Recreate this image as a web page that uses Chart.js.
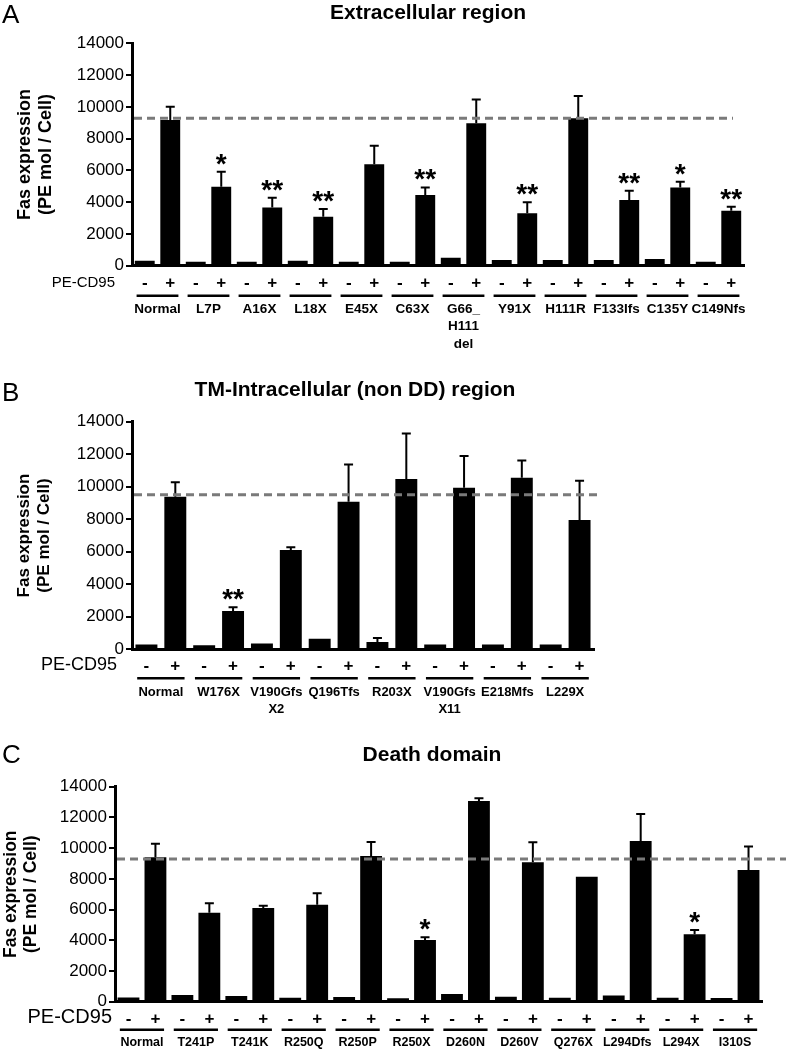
<!DOCTYPE html>
<html>
<head>
<meta charset="utf-8">
<script src="https://cdn.jsdelivr.net/npm/chart.js@4.4.0/dist/chart.umd.min.js"></script>
<style>
body { margin: 0; background: #fff; width: 786px; height: 1050px; position: relative; overflow: hidden; }
canvas { position: absolute; left: 0; }
</style>
</head>
<body>
<canvas id="panelA" width="786" height="365" style="top:0px"></canvas>
<canvas id="panelB" width="786" height="375" style="top:365px"></canvas>
<canvas id="panelC" width="786" height="310" style="top:740px"></canvas>
<script>
// Panel A - extracellular region
const groupsA = ['Normal', 'L7P', 'A16X', 'L18X', 'E45X', 'C63X', ['G66_', 'H111', 'del'], 'Y91X', 'H111R', 'F133Ifs', 'C135Y', 'C149Nfs'];
const minusA = [310, 250, 250, 310, 250, 250, 500, 360, 360, 360, 420, 250];
const plusA = [9170, 4970, 3670, 3085, 6380, 4450, 8960, 3300, 9280, 4130, 4930, 3460];
const errA = [10010, 5920, 4280, 3570, 7550, 4930, 10470, 3990, 10680, 4720, 5290, 3710];
const sigA = ['', '*', '**', '**', '', '**', '', '**', '', '**', '*', '**'];
const refA = 9280;

// Panel B - TM-intracellular (non DD) region
const groupsB = ['Normal', 'W176X', ['V190Gfs', 'X2'], 'Q196Tfs', 'R203X', ['V190Gfs', 'X11'], 'E218Mfs', 'L229X'];
const minusB = [300, 250, 350, 650, 450, 300, 300, 300];
const minusErrB = [null, null, null, null, 700, null, null, null];
const plusB = [9385, 2360, 6110, 9080, 10470, 9940, 10550, 7950];
const errB = [10270, 2580, 6270, 11370, 13280, 11890, 11620, 10370];
const sigB = ['', '**', '', '', '', '', '', ''];
const refB = 9500;

// Panel C - death domain
const groupsC = ['Normal', 'T241P', 'T241K', 'R250Q', 'R250P', 'R250X', 'D260N', 'D260V', 'Q276X', 'L294Dfs', 'L294X', 'I310S'];
const minusC = [280, 430, 370, 260, 300, 220, 500, 325, 260, 410, 260, 240];
const plusC = [9400, 5800, 6100, 6320, 9490, 4020, 13070, 9080, 8140, 10470, 4390, 8580];
const errC = [10290, 6405, 6255, 7060, 10400, 4190, 13250, 10380, null, 12230, 4670, 10100];
const sigC = ['', '', '', '', '', '*', '', '', '', '', '*', ''];
const refC = 9300;

const yTicks = [0, 2000, 4000, 6000, 8000, 10000, 12000, 14000];

Chart.defaults.font.family = '"Liberation Sans", Arial, Helvetica, sans-serif';
Chart.defaults.color = '#000';
Chart.defaults.animation = false;

function makePanel(id, d, look) {
  const values = [];
  const signs = [];
  d.groups.forEach((g, i) => {
    values.push(d.minus[i], d.plus[i]);
    signs.push('-', '+');
  });
  const canvas = document.getElementById(id);
  const H = canvas.height;

  const extras = {
    id: 'extras',
    afterDatasetsDraw(chart) {
      const ctx = chart.ctx;
      const y = chart.scales.y;
      const x2 = chart.scales.x2;
      const area = chart.chartArea;
      const bars = chart.getDatasetMeta(0).data;
      ctx.save();

      // error bars (upper only)
      ctx.strokeStyle = '#000';
      ctx.lineWidth = 2;
      const whisker = (bar, v) => {
        if (v == null) return;
        const ty = y.getPixelForValue(v);
        ctx.beginPath();
        ctx.moveTo(bar.x, bar.y);
        ctx.lineTo(bar.x, ty);
        ctx.moveTo(bar.x - 4.5, ty);
        ctx.lineTo(bar.x + 4.5, ty);
        ctx.stroke();
      };
      d.groups.forEach((g, i) => {
        whisker(bars[2 * i + 1], d.err[i]);
        if (d.minusErr) whisker(bars[2 * i], d.minusErr[i]);
      });

      // dashed line at the normal level
      const ry = y.getPixelForValue(d.ref);
      ctx.strokeStyle = '#7a7a7a';
      ctx.lineWidth = 3;
      ctx.setLineDash([8, 5]);
      ctx.beginPath();
      ctx.moveTo(area.left + 2, ry);
      ctx.lineTo(look.dashEnd, ry);
      ctx.stroke();
      ctx.setLineDash([]);

      // significance stars
      ctx.fillStyle = '#000';
      ctx.font = 'bold 28px "Liberation Sans", Arial, sans-serif';
      ctx.textAlign = 'center';
      ctx.textBaseline = 'alphabetic';
      d.groups.forEach((g, i) => {
        if (!d.sig[i]) return;
        const bar = bars[2 * i + 1];
        const top = d.err[i] != null ? y.getPixelForValue(d.err[i]) : bar.y;
        ctx.fillText(d.sig[i], bar.x, top + 1);
      });

      // group underlines
      const gw = (area.right - area.left) / d.groups.length;
      ctx.lineWidth = 2.5;
      ctx.strokeStyle = '#000';
      ctx.beginPath();
      d.groups.forEach((g, i) => {
        const cx = x2.getPixelForValue(i);
        const uy = area.bottom + look.underline;
        ctx.moveTo(cx - gw * 0.41, uy);
        ctx.lineTo(cx + gw * 0.41, uy);
      });
      ctx.stroke();

      // PE-CD95 row label
      ctx.font = look.pecdFont + 'px "Liberation Sans", Arial, sans-serif';
      ctx.textAlign = 'right';
      ctx.textBaseline = 'middle';
      ctx.fillText('PE-CD95', look.pecd[0], look.pecd[1]);

      // panel letter and title
      ctx.textAlign = 'left';
      ctx.font = '26px "Liberation Sans", Arial, sans-serif';
      ctx.fillText(look.letter, look.letterPos[0], look.letterPos[1]);
      ctx.textAlign = 'center';
      ctx.font = 'bold 21px "Liberation Sans", Arial, sans-serif';
      ctx.fillText(look.title, look.titlePos[0], look.titlePos[1]);
      ctx.restore();
    }
  };

  return new Chart(canvas, {
    type: 'bar',
    data: {
      labels: signs,
      datasets: [{
        data: values,
        backgroundColor: '#000',
        borderWidth: 0,
        barPercentage: look.barPct,
        categoryPercentage: 1
      }]
    },
    options: {
      responsive: false,
      devicePixelRatio: 1,
      layout: { padding: { left: 0, top: look.area.top, right: 786 - look.area.right, bottom: 0 } },
      plugins: { legend: { display: false }, tooltip: { enabled: false } },
      scales: {
        x: {
          type: 'category',
          position: 'bottom',
          grid: { display: false, drawTicks: false },
          border: { display: true, color: '#000', width: 3 },
          ticks: { autoSkip: false, maxRotation: 0, padding: 7, font: { size: 17, weight: 'bold', lineHeight: 1.2 } },
          afterFit: s => { s.height = 28; }
        },
        x2: {
          type: 'category',
          position: 'bottom',
          labels: d.groups,
          offset: true,
          grid: { display: false, drawTicks: false },
          border: { display: false },
          ticks: { autoSkip: false, maxRotation: 0, padding: look.x2Pad, font: { size: look.labelFont, weight: 'bold', lineHeight: 1.3 } },
          afterFit: s => { s.height = H - look.area.bottom - 28; }
        },
        y: {
          min: 0,
          max: 14000,
          afterBuildTicks: s => { s.ticks = yTicks.map(v => ({ value: v })); },
          grid: { drawOnChartArea: false, drawTicks: true, tickLength: 6, lineWidth: 2, color: '#000' },
          border: { display: true, color: '#000', width: 3 },
          ticks: { padding: 2, font: { size: 17 }, callback: v => String(v) },
          title: {
            display: true,
            text: ['Fas expression', '(PE mol / Cell)'],
            font: { size: look.yTitleFont, weight: 'bold', lineHeight: 1.15 },
            padding: { top: look.yTitlePad, bottom: 0 }
          },
          afterFit: s => { s.width = look.area.left; }
        }
      }
    },
    plugins: [extras]
  });
}

makePanel('panelA',
  { groups: groupsA, minus: minusA, plus: plusA, err: errA, sig: sigA, ref: refA },
  { area: { left: 132, right: 744, top: 43.3, bottom: 265.7 }, barPct: 0.78, dashEnd: 733, underline: 30,
    x2Pad: 6.5, labelFont: 13.5, yTitleFont: 18, yTitlePad: 15, pecd: [115, 283], pecdFont: 15,
    letter: 'A', letterPos: [2, 16], title: 'Extracellular region', titlePos: [428, 13] });

makePanel('panelB',
  { groups: groupsB, minus: minusB, minusErr: minusErrB, plus: plusB, err: errB, sig: sigB, ref: refB },
  { area: { left: 132, right: 594, top: 56.7, bottom: 284.3 }, barPct: 0.76, dashEnd: 597, underline: 29,
    x2Pad: 6.5, labelFont: 13, yTitleFont: 17, yTitlePad: 15, pecd: [117, 300], pecdFont: 18,
    letter: 'B', letterPos: [2, 29], title: 'TM-Intracellular (non DD) region', titlePos: [355, 25] });

makePanel('panelC',
  { groups: groupsC, minus: minusC, plus: plusC, err: errC, sig: sigC, ref: refC },
  { area: { left: 115, right: 762, top: 46.7, bottom: 261.7 }, barPct: 0.81, dashEnd: 786, underline: 28,
    x2Pad: 5, labelFont: 12.5, yTitleFont: 17.5, yTitlePad: 1, pecd: [112, 277], pecdFont: 20,
    letter: 'C', letterPos: [2, 16], title: 'Death domain', titlePos: [432, 15] });
</script>
</body>
</html>
